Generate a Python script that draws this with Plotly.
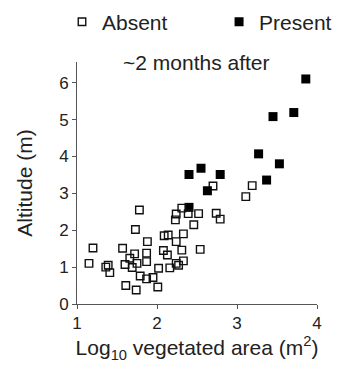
import plotly.graph_objects as go

absent_x = [1.15, 1.20, 1.39, 1.36, 1.41, 1.57, 1.60, 1.61, 1.66, 1.69, 1.72, 1.73, 1.74, 1.75,
            1.78, 1.79, 1.87, 1.87, 1.88, 1.87, 1.95, 2.01, 2.02, 2.08, 2.13, 2.09, 2.14, 2.16,
            2.24, 2.24, 2.27, 2.33, 2.31, 2.33, 2.23, 2.24, 2.31, 2.39, 2.46, 2.52, 2.54, 2.70,
            2.74, 2.79, 3.11, 3.19]
absent_y = [1.10, 1.52, 1.05, 1.00, 0.85, 1.51, 1.07, 0.50, 1.24, 0.99, 1.36, 2.02, 0.38, 1.10,
            2.55, 0.76, 1.38, 1.15, 1.69, 0.68, 0.72, 0.46, 0.97, 1.45, 1.33, 1.85, 1.87, 0.98,
            1.69, 1.10, 1.05, 1.17, 1.46, 1.90, 2.28, 2.44, 2.60, 2.45, 2.15, 2.45, 1.48, 3.20,
            2.46, 2.30, 2.91, 3.21]

present_x = [2.40, 2.40, 2.55, 2.63, 2.79, 3.27, 3.37, 3.53, 3.45, 3.71, 3.86]
present_y = [2.62, 3.51, 3.68, 3.07, 3.51, 4.07, 3.36, 3.80, 5.08, 5.19, 6.10]

series_names = ["Absent", "Present"]

font_family = "Liberation Sans, Arial, sans-serif"
txt = "#222222"
axis_col = "#555555"
pad = "\u00a0" * 8

fig = go.Figure()
fig.add_trace(go.Scatter(
    x=present_x[:1], y=present_y[:1], mode="markers", showlegend=False,
    marker=dict(symbol="square", size=9, color="#000000", line=dict(width=0)),
))
fig.add_trace(go.Scatter(
    x=absent_x, y=absent_y, mode="markers", name=series_names[0] + pad,
    marker=dict(symbol="square-open", size=7.5, color="#111111", line=dict(width=1.4)),
))
fig.add_trace(go.Scatter(
    x=present_x[1:], y=present_y[1:], mode="markers", name=series_names[1],
    marker=dict(symbol="square", size=9, color="#000000", line=dict(width=0)),
))

fig.update_layout(
    width=343, height=370,
    margin=dict(l=77, r=26, t=62, b=66, autoexpand=False),
    paper_bgcolor="white", plot_bgcolor="white",
    font=dict(family=font_family, size=17, color=txt),
    legend=dict(orientation="h", x=-0.0625, xanchor="left", y=1.165, yanchor="middle",
                font=dict(size=21, color=txt),
                bgcolor="rgba(0,0,0,0)", itemsizing="trace"),
    annotations=[dict(text="~2 months after", x=0.498, y=0.996, xref="paper", yref="paper",
                      showarrow=False, font=dict(size=21, color=txt), xanchor="center",
                      yanchor="middle")],
)
fig.update_xaxes(
    range=[1, 4], tickvals=[1, 2, 3, 4], ticks="outside", ticklen=4, tickwidth=1,
    tickcolor=axis_col, showline=True, linecolor=axis_col, linewidth=1,
    showgrid=False, zeroline=False, tickfont=dict(size=17, color=txt),
    title=dict(text="Log<sub>10</sub> vegetated area (m<sup>2</sup>)", font=dict(size=21, color=txt),
               standoff=4),
)
fig.update_yaxes(
    range=[0, 6.56], tickvals=[0, 1, 2, 3, 4, 5, 6], ticks="outside", ticklen=4, tickwidth=1,
    tickcolor=axis_col, showline=True, linecolor=axis_col, linewidth=1,
    showgrid=False, zeroline=False, tickfont=dict(size=17, color=txt),
    title=dict(text="Altitude (m)", font=dict(size=21, color=txt), standoff=20),
)

fig.write_html("out.html")
